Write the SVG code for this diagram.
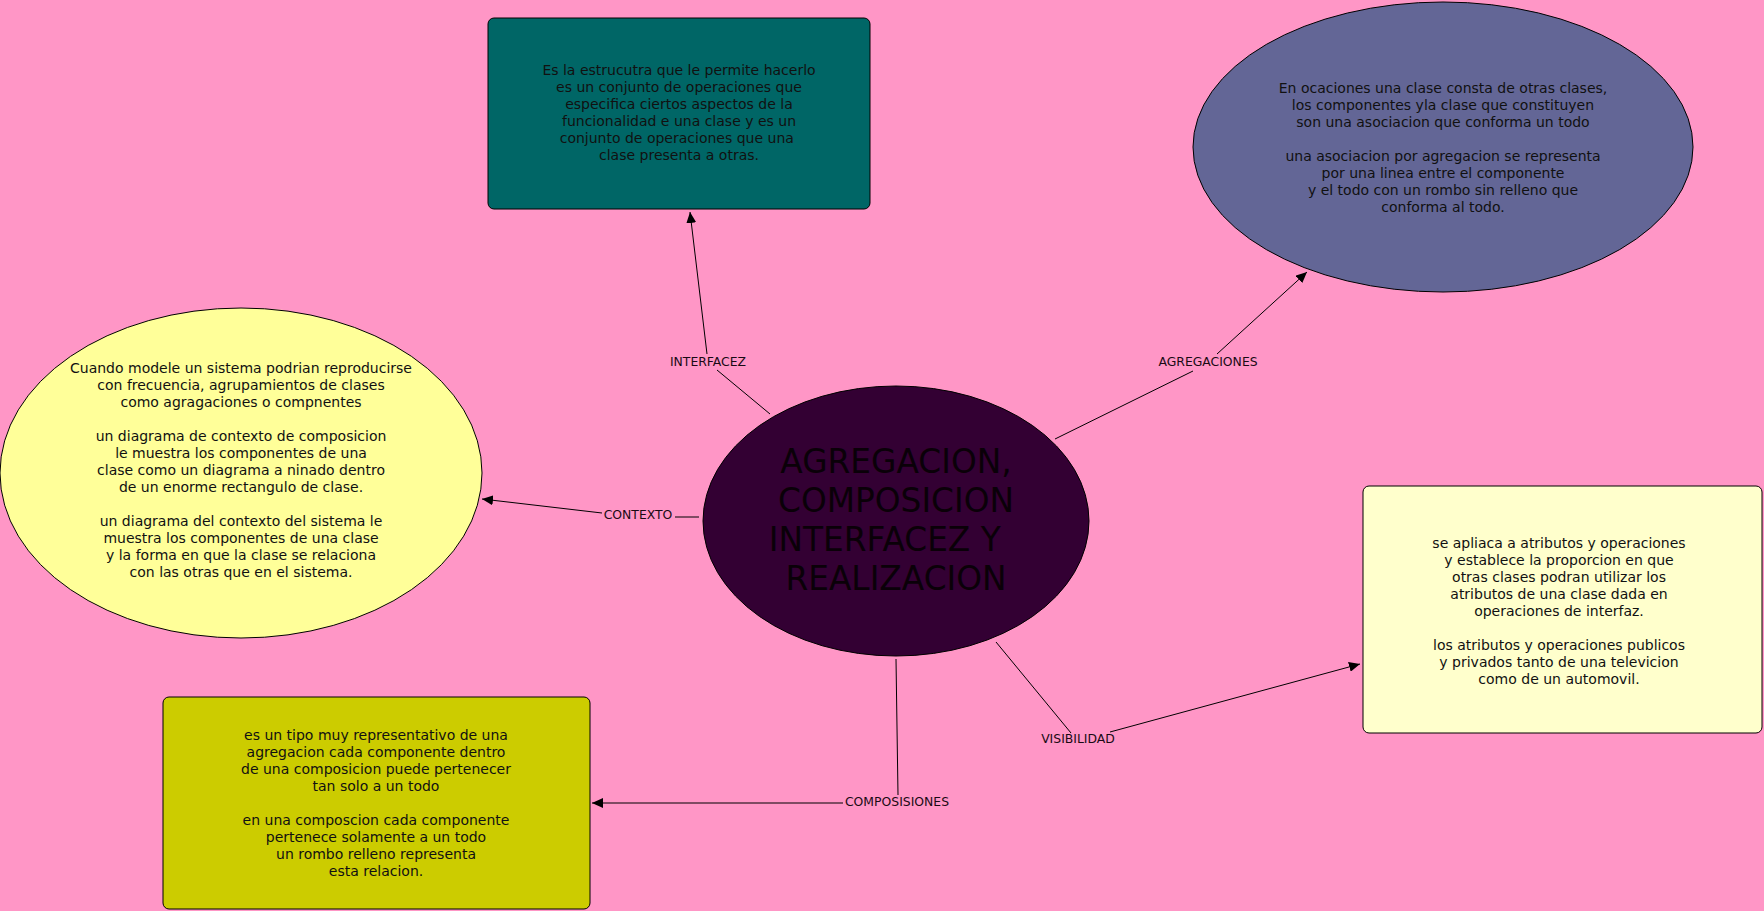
<svg xmlns="http://www.w3.org/2000/svg" width="1764" height="911" viewBox="0 0 1764 911">
<defs>
<style>
.t{font-family:"DejaVu Sans","Verdana",sans-serif;font-size:14px;fill:#111;text-anchor:middle}
.lbl{font-family:"DejaVu Sans","Verdana",sans-serif;font-size:12.4px;fill:#1a0a14;text-anchor:middle}
.big{font-family:"DejaVu Sans","Verdana",sans-serif;font-size:32.8px;fill:#0a0008;text-anchor:middle}
.n{stroke:#000;stroke-width:1}
.c{stroke:#000;stroke-width:1;fill:none}
.a{marker-end:url(#arr)}
</style>
<marker id="arr" markerWidth="12" markerHeight="10" refX="11" refY="5" orient="auto" markerUnits="userSpaceOnUse">
<path d="M0,0 L11,5 L0,10 z" fill="#000"/>
</marker>
</defs>
<rect x="0" y="0" width="1764" height="911" fill="#ff96c6"/>
<g id="connectors">
<line class="c" x1="770" y1="414" x2="717" y2="370"/>
<line class="c a" x1="707" y1="354" x2="690" y2="212"/>
<line class="c" x1="1055" y1="439" x2="1193" y2="371"/>
<line class="c a" x1="1217" y1="354" x2="1307" y2="272"/>
<line class="c" x1="699" y1="517" x2="675" y2="517"/>
<line class="c a" x1="602" y1="513" x2="482" y2="499"/>
<line class="c" x1="896" y1="659" x2="898" y2="795"/>
<line class="c a" x1="843" y1="803" x2="592" y2="803"/>
<line class="c" x1="996" y1="642" x2="1071" y2="733"/>
<line class="c a" x1="1110" y1="732" x2="1360" y2="664"/>
<text class="lbl" x="708" y="366">INTERFACEZ</text>
<text class="lbl" x="1208" y="366">AGREGACIONES</text>
<text class="lbl" x="638" y="519">CONTEXTO</text>
<text class="lbl" x="897" y="806">COMPOSISIONES</text>
<text class="lbl" x="1078" y="743">VISIBILIDAD</text>
</g>
<g id="interfaz">
<rect class="n" x="488" y="18" width="382" height="191" rx="6" fill="#006666"/>
<text class="t" y="75"><tspan x="679">Es la estrucutra que le permite hacerlo</tspan><tspan x="679" dy="17">es un conjunto de operaciones que</tspan><tspan x="679" dy="17">especifica ciertos aspectos de la</tspan><tspan x="679" dy="17">funcionalidad e una clase y es un</tspan><tspan x="679" dy="17">conjunto de operaciones que una </tspan><tspan x="679" dy="17">clase presenta a otras.</tspan></text>
</g>
<g id="agregaciones">
<ellipse class="n" cx="1443" cy="147" rx="250" ry="145" fill="#636696"/>
<text class="t" y="93"><tspan x="1443">En ocaciones una clase consta de otras clases,</tspan><tspan x="1443" dy="17">los componentes yla clase que constituyen</tspan><tspan x="1443" dy="17">son una asociacion que conforma un todo</tspan><tspan x="1443" dy="34">una asociacion por agregacion se representa</tspan><tspan x="1443" dy="17">por una linea entre el componente</tspan><tspan x="1443" dy="17">y el todo con un rombo sin relleno que</tspan><tspan x="1443" dy="17">conforma al todo.</tspan></text>
</g>
<g id="contexto">
<ellipse class="n" cx="241" cy="473" rx="241" ry="165" fill="#ffff99"/>
<text class="t" y="373"><tspan x="241">Cuando modele un sistema podrian reproducirse</tspan><tspan x="241" dy="17">con frecuencia, agrupamientos de clases</tspan><tspan x="241" dy="17">como agragaciones o compnentes</tspan><tspan x="241" dy="34">un diagrama de contexto de composicion</tspan><tspan x="241" dy="17">le muestra los componentes de una</tspan><tspan x="241" dy="17">clase como un diagrama a ninado dentro</tspan><tspan x="241" dy="17">de un enorme rectangulo de clase.</tspan><tspan x="241" dy="34">un diagrama del contexto del sistema le</tspan><tspan x="241" dy="17">muestra los componentes de una clase</tspan><tspan x="241" dy="17">y la forma en que la clase se relaciona</tspan><tspan x="241" dy="17">con las otras que en el sistema.</tspan></text>
</g>
<g id="central">
<ellipse class="n" cx="896" cy="521" rx="193" ry="135" fill="#330033"/>
<text class="big" y="473"><tspan x="896">AGREGACION,</tspan><tspan x="896" dy="39">COMPOSICION</tspan><tspan x="890" dy="39">INTERFACEZ Y </tspan><tspan x="896" dy="39">REALIZACION</tspan></text>
</g>
<g id="visibilidad">
<rect class="n" x="1363" y="486" width="399" height="247" rx="6" fill="#ffffcc"/>
<text class="t" y="548"><tspan x="1559">se apliaca a atributos y operaciones</tspan><tspan x="1559" dy="17">y establece la proporcion en que</tspan><tspan x="1559" dy="17">otras clases podran utilizar los</tspan><tspan x="1559" dy="17">atributos de una clase dada en</tspan><tspan x="1559" dy="17">operaciones de interfaz.</tspan><tspan x="1559" dy="34">los atributos y operaciones publicos</tspan><tspan x="1559" dy="17">y privados tanto de una televicion</tspan><tspan x="1559" dy="17">como de un automovil.</tspan></text>
</g>
<g id="composiciones">
<rect class="n" x="163" y="697" width="427" height="212" rx="6" fill="#cccc00"/>
<text class="t" y="740"><tspan x="376">es un tipo muy representativo de una</tspan><tspan x="376" dy="17">agregacion cada componente dentro</tspan><tspan x="376" dy="17">de una composicion puede pertenecer</tspan><tspan x="376" dy="17">tan solo a un todo</tspan><tspan x="376" dy="34">en una composcion cada componente</tspan><tspan x="376" dy="17">pertenece solamente a un todo</tspan><tspan x="376" dy="17">un rombo relleno representa</tspan><tspan x="376" dy="17">esta relacion.</tspan></text>
</g>
</svg>
